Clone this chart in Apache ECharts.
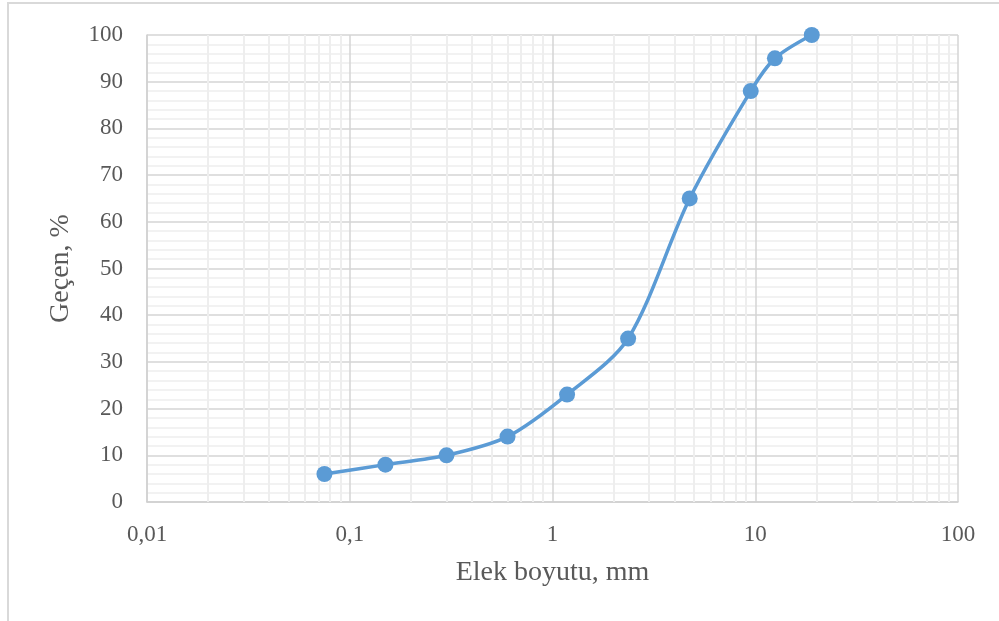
<!DOCTYPE html>
<html>
<head>
<meta charset="utf-8">
<script src="https://cdn.jsdelivr.net/npm/echarts@6/dist/echarts.min.js"></script>
<style>
  html, body { margin: 0; padding: 0; background: #ffffff; }
  #chart { width: 999px; height: 621px; }
</style>
</head>
<body>
<div id="chart"></div>
<script>
// Sieve sizes (mm) and cumulative percent passing
const sieveSizes = [0.075, 0.15, 0.3, 0.6, 1.18, 2.36, 4.75, 9.5, 12.5, 19];
const percentPassing = [6, 8, 10, 14, 23, 35, 65, 88, 95, 100];

// Intermediate gridlines of the logarithmic axis (2..9 in every decade)
const minorGridX = [];
[0.01, 0.1, 1, 10].forEach(function (d) {
  for (let k = 2; k <= 9; k++) minorGridX.push(+(d * k).toPrecision(3));
});

const xTitle = 'Elek boyutu, mm';
const yTitle = 'Geçen, %';

const textColor = '#595959';
const font = '"Liberation Serif", "Times New Roman", serif';

const chart = echarts.init(document.getElementById('chart'), null, { renderer: 'canvas' });

chart.setOption({
  animation: false,
  backgroundColor: '#ffffff',
  graphic: [{
    type: 'rect',
    silent: true,
    z: -10,
    shape: { x: 8, y: 3, width: 1200, height: 800 },
    style: { fill: 'none', stroke: '#d9d9d9', lineWidth: 2 }
  }],
  grid: { left: 147, right: 41, top: 35, bottom: 119, containLabel: false },
  xAxis: {
    type: 'log',
    logBase: 10,
    min: 0.01,
    max: 100,
    name: xTitle,
    nameLocation: 'middle',
    nameGap: 57,
    nameTextStyle: { fontFamily: font, fontSize: 28, color: textColor },
    axisLine: { show: true, lineStyle: { color: '#d0d0d0', width: 1.5 } },
    axisTick: { show: false },
    axisLabel: {
      fontFamily: font, fontSize: 23, color: textColor, margin: 21,
      formatter: function (v) { return String(+v.toPrecision(3)).replace('.', ','); }
    },
    splitLine: { show: true, lineStyle: { color: '#d4d4d4', width: 1.5 } }
  },
  yAxis: {
    type: 'value',
    min: 0,
    max: 100,
    interval: 10,
    name: yTitle,
    nameLocation: 'middle',
    nameGap: 72,
    nameRotate: 90,
    nameTextStyle: { fontFamily: font, fontSize: 28, color: textColor },
    axisLine: { show: true, lineStyle: { color: '#d0d0d0', width: 1.5 } },
    axisTick: { show: false },
    axisLabel: { fontFamily: font, fontSize: 23, color: textColor, margin: 24 },
    splitLine: { show: true, lineStyle: { color: '#d4d4d4', width: 1.5 } },
    minorTick: { show: false, splitNumber: 5 },
    minorSplitLine: { show: true, lineStyle: { color: '#eeeeee', width: 1.5 } }
  },
  series: [
    {
      // vertical minor gridlines
      type: 'line',
      data: [],
      silent: true,
      z: 1,
      markLine: {
        silent: true,
        symbol: 'none',
        label: { show: false },
        lineStyle: { color: '#eeeeee', width: 2, type: 'solid' },
        data: minorGridX.map(function (v) { return { xAxis: v }; })
      }
    },
    {
      type: 'line',
      z: 5,
      data: sieveSizes.map(function (s, i) { return [s, percentPassing[i]]; }),
      smooth: 0.3,
      symbol: 'circle',
      symbolSize: 16,
      lineStyle: { color: '#5b9bd5', width: 3.5 },
      itemStyle: { color: '#5b9bd5' }
    }
  ]
});
</script>
</body>
</html>
